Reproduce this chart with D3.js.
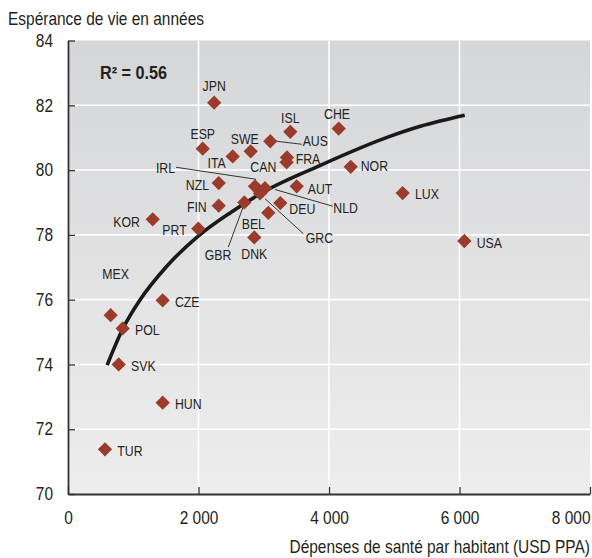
<!DOCTYPE html>
<html>
<head>
<meta charset="utf-8">
<script src="https://cdn.jsdelivr.net/npm/d3@7"></script>
<style>
  body { margin: 0; background: #fff; }
  text { font-family: "Liberation Sans", Arial, sans-serif; fill: #231f20; }
</style>
</head>
<body>
<div id="container"></div>
<script>
/* DATA */
const countries = ["JPN", "ESP", "ITA", "SWE", "AUS", "ISL", "CHE", "FRA", "CAN", "NOR",
  "IRL", "NLD", "GRC", "NZL", "FIN", "AUT", "DEU", "BEL", "DNK", "GBR",
  "PRT", "KOR", "MEX", "POL", "CZE", "SVK", "HUN", "TUR", "LUX", "USA"];
const spending = [2240, 2065, 2524, 2800, 3100, 3407, 4149, 3356, 3350, 4333,
  2866, 3019, 2943, 2310, 2310, 3505, 3254, 3070, 2855, 2702,
  1997, 1298, 654, 838, 1451, 777, 1451, 567, 5129, 6074];
const lifeExp = [82.08, 80.66, 80.42, 80.58, 80.89, 81.18, 81.28, 80.39, 80.24, 80.10,
  79.50, 79.44, 79.28, 79.60, 78.90, 79.50, 78.98, 78.68, 77.92, 79.00,
  78.19, 78.48, 75.52, 75.11, 75.98, 74.00, 72.82, 71.38, 79.29, 77.81];

// trend curve
const trendSpending = [600, 840, 1100, 1500, 2000, 2500, 3000, 3860, 4880, 5400, 6080];
const trendLifeExp = [73.98, 75.10, 75.98, 77.00, 77.97, 78.70, 79.33, 80.14, 81.00, 81.35, 81.69];

const xTickValues = [0, 2000, 4000, 6000, 8000];
const yTickValues = [70, 72, 74, 76, 78, 80, 82, 84];

const yTitle = "Espérance de vie en années";
const xTitle = "Dépenses de santé par habitant (USD PPA)";
const r2Text = "R² = 0.56";

/* LABEL PLACEMENT (dx, dy, anchor) relative to marker */
const labelPos = {
  JPN: [0, -11.6, "middle"], ESP: [0, -9.3, "middle"], ITA: [-7, 11.7, "end"],
  SWE: [-6, -7.7, "middle"], AUS: [32.4, 5, "start"], ISL: [0, -9, "middle"],
  CHE: [-1.7, -10, "middle"], FRA: [8.7, 6.3, "start"], CAN: [-10.3, 9.7, "end"],
  NOR: [10, 4.2, "start"], IRL: [-80, -13.3, "end"], NLD: [68.3, 24.7, "start"],
  GRC: [45.7, 49.7, "start"], NZL: [-9.7, 7.3, "end"], FIN: [-12, 6.4, "end"],
  AUT: [11, 8, "start"], DEU: [9, 10.6, "start"], BEL: [-15, 15.8, "middle"],
  DNK: [0, 22, "middle"], GBR: [-26.3, 57.3, "middle"], PRT: [-11.6, 6.5, "end"],
  KOR: [-12.7, 7.7, "end"], MEX: [5, -35.7, "middle"], POL: [12.3, 6.7, "start"],
  CZE: [12.3, 6.7, "start"], SVK: [12.3, 6.4, "start"], HUN: [12.3, 6.3, "start"],
  TUR: [12.3, 6.4, "start"], LUX: [12.3, 6.3, "start"], USA: [12.4, 6.6, "start"]
};
// leader lines (x1, y1, x2, y2) relative to marker
const leaders = {
  IRL: [1, -7, -79, -19],
  AUS: [6, 0, 31.4, 3],
  NLD: [10, 1.3, 67.7, 18],
  GRC: [5, 5.3, 43.3, 40.3],
  GBR: [0, 1.3, -16, 44.7]
};

/* CONSTANTS */
const width = 592, height = 558;
const margin = { top: 40.5, bottom: 64, left: 68, right: 2 };
const markerColor = "#9b3b2c";
const narrow = 0.86;      // condensed look for axis text
const narrowLabel = 0.82; // condensed look for country codes

const svg = d3.select("#container")
  .append("svg")
  .attr("width", width)
  .attr("height", height);

/* SCALES */
const xScale = d3.scaleLinear()
  .domain([0, 8000])
  .range([margin.left, width - margin.right]);

const yScale = d3.scaleLinear()
  .domain([70, 84])
  .range([height - margin.bottom, margin.top]);

const fmt = d3.formatLocale({ decimal: ",", thousands: " ", grouping: [3], currency: ["", ""] }).format(",d");

// background gradient
const grad = svg.append("defs").append("linearGradient")
  .attr("id", "bg").attr("x1", 0).attr("y1", 0).attr("x2", 0).attr("y2", 1);
grad.append("stop").attr("offset", "0%").attr("stop-color", "#d5d6d8");
grad.append("stop").attr("offset", "100%").attr("stop-color", "#ededed");

svg.append("rect")
  .attr("x", xScale(0))
  .attr("y", yScale(84))
  .attr("width", xScale(8000) - xScale(0))
  .attr("height", yScale(70) - yScale(84))
  .attr("fill", "url(#bg)");

// gridlines
svg.append("g")
  .selectAll("line")
  .data(yTickValues.filter(d => d > 70 && d < 84))
  .join("line")
  .attr("x1", xScale(0)).attr("x2", xScale(8000))
  .attr("y1", d => yScale(d)).attr("y2", d => yScale(d))
  .attr("stroke", "#fff").attr("stroke-width", 1.6);

svg.append("g")
  .selectAll("line")
  .data(xTickValues.filter(d => d > 0 && d < 8000))
  .join("line")
  .attr("x1", d => xScale(d)).attr("x2", d => xScale(d))
  .attr("y1", yScale(84)).attr("y2", yScale(70))
  .attr("stroke", "#fff").attr("stroke-width", 1.6);

/* AXES */
const xAxis = d3.axisBottom(xScale)
  .tickValues(xTickValues)
  .tickSizeInner(-7)
  .tickSizeOuter(0)
  .tickFormat(fmt);

const yAxis = d3.axisLeft(yScale)
  .tickValues(yTickValues)
  .tickSizeInner(-7)
  .tickSizeOuter(0);

const xAxisGroup = svg.append("g")
  .attr("transform", `translate(0, ${yScale(70)})`)
  .call(xAxis);

const yAxisGroup = svg.append("g")
  .attr("transform", `translate(${xScale(0)}, 0)`)
  .call(yAxis);

[xAxisGroup, yAxisGroup].forEach(g => {
  g.select(".domain").attr("stroke", "#333").attr("stroke-width", 1.8);
  g.selectAll(".tick line").attr("stroke", "#333").attr("stroke-width", 1.3);
  g.selectAll(".tick text")
    .attr("fill", "#231f20")
    .attr("font-size", 18)
    .style("font-family", "'Liberation Sans', Arial, sans-serif");
});

yAxisGroup.selectAll(".tick text")
  .attr("x", 0)
  .attr("transform", `translate(-15, 0) scale(${narrow}, 1)`);

xAxisGroup.selectAll(".tick text")
  .attr("y", 0)
  .attr("dy", "0.71em")
  .attr("text-anchor", d => d === 8000 ? "end" : "middle")
  .attr("transform", d => `translate(${d === 8000 ? 0 : 0}, 17) scale(${narrow}, 1)`);

// titles
svg.append("text")
  .attr("transform", `translate(8, 25) scale(${narrow}, 1)`)
  .attr("font-size", 18)
  .text(yTitle);

svg.append("text")
  .attr("transform", `translate(590, 553) scale(${narrow}, 1)`)
  .attr("text-anchor", "end")
  .attr("font-size", 18)
  .text(xTitle);

svg.append("text")
  .attr("transform", `translate(100, 79) scale(0.9, 1)`)
  .attr("font-size", 18)
  .attr("font-weight", "bold")
  .text(r2Text);

/* TREND */
const trend = trendSpending.map((d, i) => ({ x: d, y: trendLifeExp[i] }));
svg.append("path")
  .datum(trend)
  .attr("fill", "none")
  .attr("stroke", "#1a1a1a")
  .attr("stroke-width", 3.6)
  .attr("d", d3.line().x(d => xScale(d.x)).y(d => yScale(d.y)).curve(d3.curveMonotoneX));

/* POINTS */
const points = countries.map((c, i) => ({ code: c, x: spending[i], y: lifeExp[i] }));

svg.append("g")
  .selectAll("line")
  .data(points.filter(d => leaders[d.code]))
  .join("line")
  .attr("x1", d => xScale(d.x) + leaders[d.code][0])
  .attr("y1", d => yScale(d.y) + leaders[d.code][1])
  .attr("x2", d => xScale(d.x) + leaders[d.code][2])
  .attr("y2", d => yScale(d.y) + leaders[d.code][3])
  .attr("stroke", "#333")
  .attr("stroke-width", 1);

svg.append("g")
  .selectAll("path")
  .data(points)
  .join("path")
  .attr("d", d3.symbol(d3.symbolSquare, 102))
  .attr("transform", d => `translate(${xScale(d.x)}, ${yScale(d.y)}) rotate(45)`)
  .attr("fill", markerColor);

svg.append("g")
  .selectAll("text")
  .data(points)
  .join("text")
  .attr("transform", d => `translate(${xScale(d.x) + labelPos[d.code][0]}, ${yScale(d.y) + labelPos[d.code][1]}) scale(${narrowLabel}, 1)`)
  .attr("text-anchor", d => labelPos[d.code][2])
  .attr("font-size", 15)
  .text(d => d.code);
</script>
</body>
</html>
